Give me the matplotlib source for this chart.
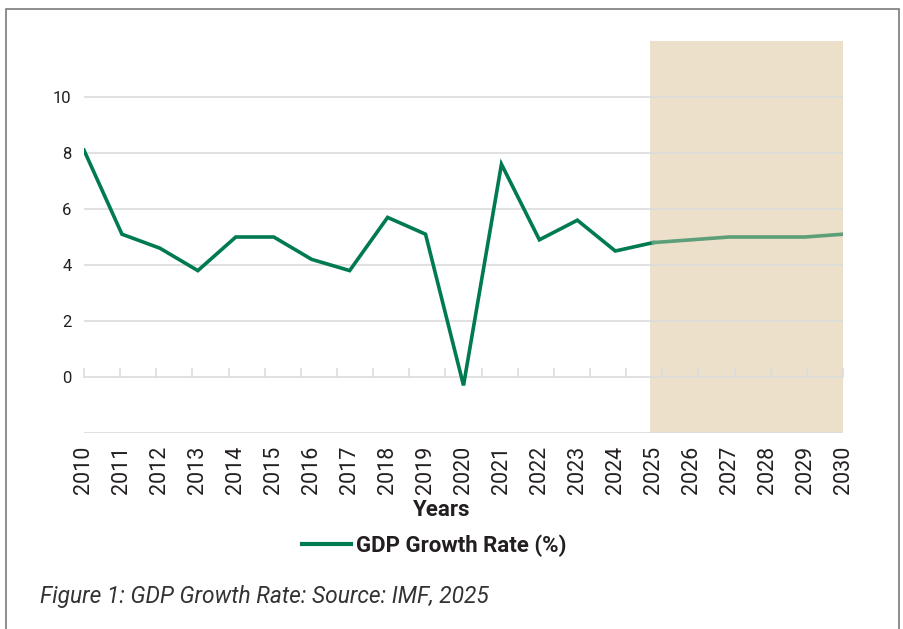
import matplotlib
matplotlib.use("Agg")
import matplotlib.pyplot as plt
from matplotlib.lines import Line2D
from matplotlib.patches import Rectangle

plt.rcParams['font.family'] = ['Roboto', 'DejaVu Sans']

years = list(range(2010, 2031))
gdp_hist_years = list(range(2010, 2026))
gdp_hist = [8.1, 5.1, 4.6, 3.8, 5.0, 5.0, 4.2, 3.8, 5.7, 5.1, -0.3, 7.6, 4.9, 5.6, 4.5, 4.8]
gdp_fc_years = list(range(2025, 2031))
gdp_fc = [4.8, 4.9, 5.0, 5.0, 5.0, 5.1]
y_ticks = [0, 2, 4, 6, 8, 10]
forecast_start, forecast_end = 2025, 2030

GREEN = '#007a4f'
GREEN_FC = '#5c9f78'
SHADE = '#ece0ca'
GRID = '#dcdcdc'
TEXT = '#231f20'

fig = plt.figure(figsize=(9.04, 6.29), dpi=100)
ax = fig.add_axes([84/904, 1-433/629, (843-84)/904, (433-41)/629])
ax.set_xlim(years[0], years[-1])
ax.set_ylim(-2, 12)

ax.axvspan(forecast_start - 0.08, forecast_end, color=SHADE, zorder=0, lw=0)
for v in y_ticks:
    ax.axhline(v, color=GRID, lw=1.2, zorder=1)
ax.axhline(-2, color=GRID, lw=1.2, zorder=1)

# category-style tick marks on the zero line
n = len(years)
for k in range(n + 1):
    xt = years[0] + k * (years[-1] - years[0]) / n
    ax.plot([xt, xt], [0, 0.3], color=GRID, lw=1.2, zorder=1, clip_on=False)

ax.plot(gdp_hist_years, gdp_hist, color=GREEN, lw=2.6, zorder=3, solid_joinstyle='miter')
ax.plot(gdp_fc_years, gdp_fc, color=GREEN_FC, lw=2.6, zorder=3)

for s in ax.spines.values():
    s.set_visible(False)
ax.set_yticks(y_ticks)
ax.set_yticklabels([str(v) for v in y_ticks], fontsize=12, color=TEXT)
ax.tick_params(axis='y', length=0, pad=9)
ax.set_xticks(years)
ax.set_xticklabels([str(y) for y in years], rotation=90, fontsize=15.5, color=TEXT)
ax.tick_params(axis='x', length=0, pad=9)

fig.text(442/904, 1-510/629, 'Years', ha='center', va='center', fontsize=16,
         fontweight='bold', color=TEXT)

handle = Line2D([], [], color=GREEN, lw=3)
fig.legend([handle], ['GDP Growth Rate (%)'], loc='center', bbox_to_anchor=(434/904, 1-546/629),
           frameon=False, prop={'size': 16, 'weight': 'bold'}, handlelength=2.2,
           handletextpad=0.22, labelcolor=TEXT)

fig.text(40/904, 1-597/629, 'Figure 1: GDP Growth Rate: Source: IMF, 2025', ha='left', va='center',
         fontsize=16.4, style='italic', color='#333333')

# frame around the figure
fig.patches.append(Rectangle((6/904, -0.05), (899-6)/904, 1.05-9/629, transform=fig.transFigure,
                             fill=False, edgecolor='#7a7a7a', lw=1.2))

fig.savefig('out.png', dpi=100)
